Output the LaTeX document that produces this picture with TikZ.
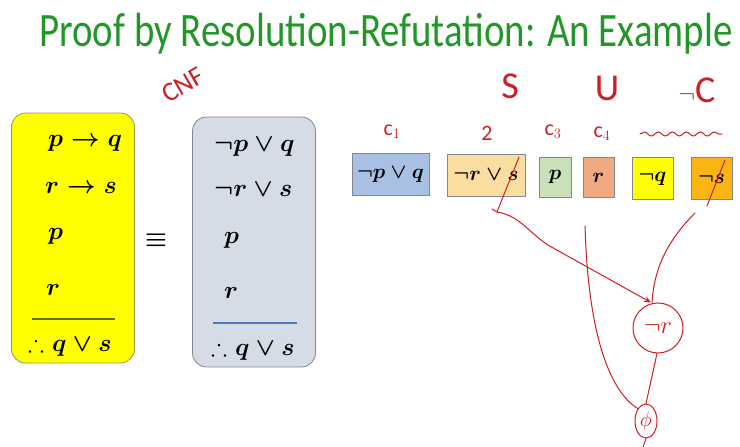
\documentclass[tikz,border=0pt]{standalone}
\usepackage{amsmath}
\usepackage{amssymb}
\usepackage{fontspec}
\setsansfont{Carlito}
\usepackage{tikz}
\usetikzlibrary{shapes.geometric,arrows.meta,positioning,decorations.pathmorphing}
\definecolor{TitleGreen}{RGB}{34,150,40}
\definecolor{InkRed}{RGB}{205,30,35}
\definecolor{KBYellow}{RGB}{255,255,0}
\definecolor{KBEdge}{RGB}{150,150,90}
\definecolor{CNFGray}{RGB}{214,220,230}
\definecolor{BoxEdge}{RGB}{130,135,145}
\definecolor{ClBlue}{RGB}{168,192,228}
\definecolor{ClSand}{RGB}{250,222,160}
\definecolor{ClGreen}{RGB}{200,225,185}
\definecolor{ClSalmon}{RGB}{240,170,130}
\definecolor{ClOrange}{RGB}{250,180,20}
\definecolor{RuleOlive}{RGB}{95,110,40}
\definecolor{RuleBlue}{RGB}{80,120,190}

\begin{document}
\begin{tikzpicture}[
  x=1pt, y=-1pt,
  panel/.style={rectangle, rounded corners=14pt, minimum width=123pt, minimum height=250pt, line width=0.8pt},
  formula/.style={anchor=west, inner sep=0pt, font=\fontsize{24}{28}\selectfont\boldmath},
  clause/.style={rectangle, draw=BoxEdge, line width=0.8pt, minimum height=42pt, inner sep=1pt,
                 font=\fontsize{21}{24}\selectfont\boldmath},
  ink/.style={font=\sffamily\fontsize{22}{24}\selectfont, text=InkRed},
  inkline/.style={draw=InkRed, line width=1pt, line cap=round},
  inkarrow/.style={inkline, -{Stealth[length=7pt, width=6pt]}}
]
\useasboundingbox (0,0) rectangle (740,447);

% title
\node[font=\sffamily\fontsize{48}{50}\selectfont, text=TitleGreen, anchor=base] (title) at (386,46)
  {\scalebox{0.81}[1]{Proof by Resolution-Refutation: An Example}};

% knowledge base and its CNF
\node[panel, fill=KBYellow, draw=KBEdge] (KB) at (73,238) {};
\node[panel, fill=CNFGray, draw=BoxEdge] (CNF) at (254,242) {};
\node[font=\fontsize{26}{28}\selectfont\boldmath] (equiv) at (156,240) {$\equiv$};

\node[formula] (kb1) at (48,143) {$p \rightarrow q$};
\node[formula] (kb2) at (45,188) {$r \rightarrow s$};
\node[formula] (kb3) at (48,236) {$p$};
\node[formula] (kb4) at (46,290) {$r$};
\draw[RuleOlive, line width=1.6pt] (32,319) -- (115,319);
\node[formula] (kbc) at (28,346) {$\therefore q \vee s$};

\node[formula] (cn1) at (214,147) {$\neg p \vee q$};
\node[formula] (cn2) at (214,190) {$\neg r \vee s$};
\node[formula] (cn3) at (224,240) {$p$};
\node[formula] (cn4) at (224,293) {$r$};
\draw[RuleBlue, line width=1.6pt] (213,323) -- (297,323);
\node[formula] (cnc) at (211,350) {$\therefore q \vee s$};

% clause row
\node[clause, fill=ClBlue, minimum width=77pt] (c1) at (390.5,174.5) {$\neg p \vee q$};
\node[clause, fill=ClSand, minimum width=78pt] (c2) at (486,175) {$\neg r \vee s$};
\node[clause, fill=ClGreen, minimum width=32pt, minimum height=40pt] (c3) at (555,177) {$p$};
\node[clause, fill=ClSalmon, minimum width=31pt, minimum height=40pt] (c4) at (598.5,177.5) {$r$};
\node[clause, fill=KBYellow, minimum width=41pt] (c5) at (652.5,178.5) {$\neg q$};
\node[clause, fill=ClOrange, minimum width=41pt] (c6) at (711.5,178.5) {$\neg s$};

% handwritten notes
\node[ink, font=\sffamily\fontsize{27}{28}\selectfont, rotate=30, inner sep=0pt] (cnfnote) at (183,85) {CNF};
\node[ink, font=\sffamily\fontsize{38}{40}\selectfont] (setS) at (510,86) {S};
\node[ink, font=\sffamily\fontsize{38}{40}\selectfont] (union) at (607,88) {U};
\node[ink, font=\sffamily\fontsize{38}{40}\selectfont] (negC) at (697,90) {$\neg$C};
\node[ink] (l1) at (392,132) {c$_1$};
\node[ink] (l2) at (487,133) {2};
\node[ink] (l3) at (553,132) {c$_3$};
\node[ink] (l4) at (602,134) {c$_4$};
\draw[inkline, decorate, decoration={snake, amplitude=2pt, segment length=14pt}] (640,134) -- (722,134);

% resolution steps
\node[ink, font=\fontsize{26}{28}\selectfont, draw=InkRed, line width=1pt, ellipse, minimum width=50pt, minimum height=50pt, inner sep=1pt] (nr) at (658,328) {$\neg r$};
\node[ink, draw=InkRed, line width=1pt, ellipse, minimum width=22pt, minimum height=34pt, inner sep=0pt] (phi) at (646,421) {$\phi$};

\coordinate (s2) at (519,157);
\coordinate (cut2) at (497,212);
\coordinate (s6) at (725,160);
\coordinate (cut6) at (707,206);
\coordinate (from6) at (695,213);
\coordinate (from4) at (585,226);
\coordinate (tail) at (643,447);

\draw[inkline] (s2) -- (cut2);
\draw[inkline] (s6) -- (cut6);
\draw[inkarrow] (cut2) -- ++(-5,-3) (cut2) .. controls (522,216) and (530,236) .. (555,249) -- ([xshift=-7pt]nr.north);
\draw[inkline] (from6) .. controls (668,240) and (654,268) .. ([xshift=-6pt]nr.north);
\draw[inkline] (from4) .. controls (588,330) and (608,390) .. (phi.north west);
\draw[inkline] ([xshift=-1pt]nr.south) -- (phi.north) (phi.south) -- (tail);
\end{tikzpicture}
\end{document}
